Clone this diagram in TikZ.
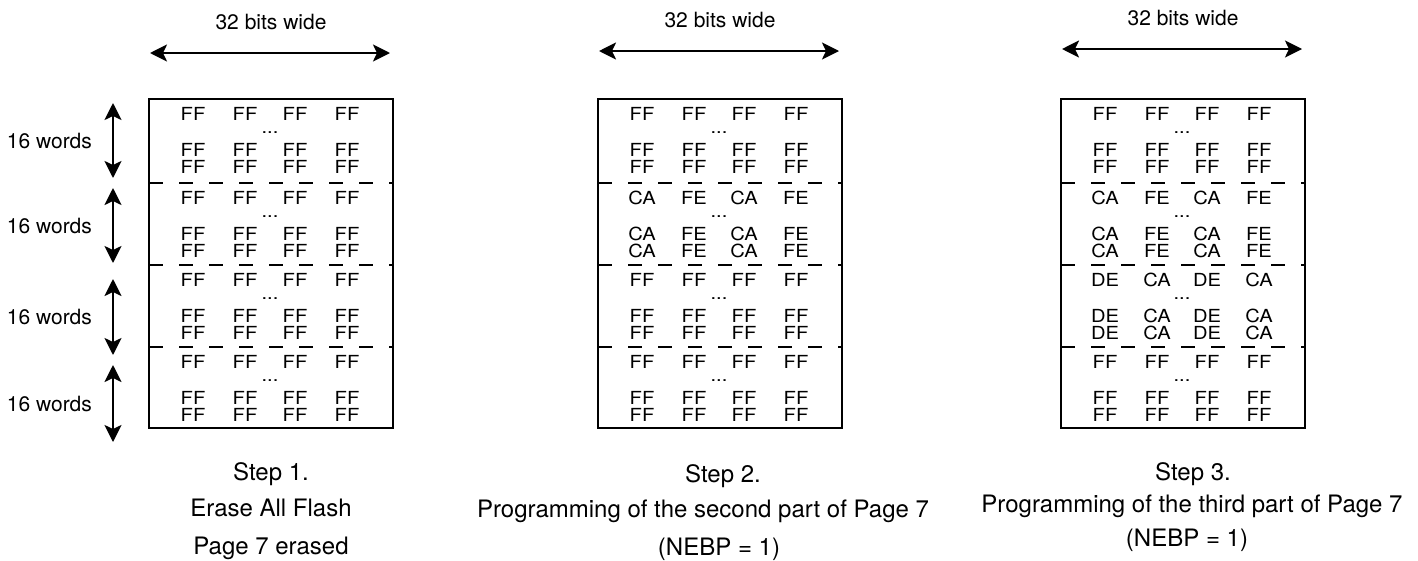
\documentclass[tikz,border=0pt]{standalone}
\usepackage{fontspec}
\setmainfont{TeX Gyre Heros}
\newfontfamily\cellfont[FakeStretch=1.12]{TeX Gyre Heros}
\usetikzlibrary{arrows.meta, positioning}

\tikzset{
  membox/.style={line width=2.8pt},
  sepline/.style={line width=2.8pt, dash pattern=on 14pt off 16pt},
  dimarrow/.style={line width=2.2pt,
    {Stealth[length=17pt,width=17pt,inset=4pt]}-{Stealth[length=17pt,width=17pt,inset=4pt]}},
  cell/.style={inner sep=0pt, font=\cellfont\fontsize{18}{18}\selectfont},
  lbl/.style={inner sep=0pt, font=\fontsize{21}{21}\selectfont},
  capline/.style={inner sep=0pt, anchor=base, font=\fontsize{24}{24}\selectfont},
}

\begin{document}
\begin{tikzpicture}[x=1pt,y=-1pt]
    \useasboundingbox (0,0) rectangle (1418,560);

    % Page 7 outline, section borders and width arrow for each step
    \foreach \bx/\ay [count=\b] in {149/53, 598/51, 1061/49} {
        \draw[membox] (\bx,99) rectangle ++(244,329);
        \foreach \sy in {183,265,347}
            \draw[sepline] (\bx,\sy) -- ++(244,0);
        \coordinate (wl\b) at (\bx+1,\ay);
        \coordinate (wr\b) at (\bx+241,\ay);
        \draw[dimarrow] (wl\b) -- (wr\b);
        \node[lbl, anchor=base] (wide\b) at (\bx+122,\ay-23.5) {32 bits wide};
    }

    % Words in each 16-word section (two values, alternating)
    \foreach \bx/\sa/\sb/\sc/\sd/\se/\sf/\sg/\sh [count=\b] in
        {149/FF/FF/FF/FF/FF/FF/FF/FF,
         598/FF/FF/CA/FE/FF/FF/FF/FF,
         1061/FF/FF/CA/FE/DE/CA/FF/FF} {
        \foreach \ty/\wa/\wb [count=\s] in {99/\sa/\sb, 183/\sc/\sd, 265/\se/\sf, 347/\sg/\sh} {
            \foreach \ry [count=\r] in {15,51,68} {
                \foreach \cx/\w [count=\c] in {44/\wa, 96/\wb, 146/\wa, 198/\wb}
                    \node[cell] (w\b-\s-\r-\c) at (\bx+\cx,\ty+\ry) {\w};
            }
            \node[cell, anchor=base] (dots\b-\s) at (\bx+121,\ty+34) {...};
        }
    }

    % Height arrows of the sections
    \foreach \ya/\yb [count=\k] in {103/178, 188/263, 279/355, 365/442} {
        \coordinate (vt\k) at (113,\ya);
        \coordinate (vb\k) at (113,\yb);
        \draw[dimarrow] (vt\k) -- (vb\k) node[lbl, midway, left=20pt] (words\k) {16 words};
    }

    % Captions
    \node[capline] (step1) at (271,480) {Step 1.};
    \node[capline] (erase1) at (271,516) {Erase All Flash};
    \node[capline] (page1) at (271,554) {Page 7 erased};

    \node[capline] (step2) at (723,482) {Step 2.};
    \node[capline] (prog2) at (703,517) {Programming of the second part of Page 7};
    \node[capline] (nebp2) at (719,555) {(NEBP = 1)};

    \node[capline] (step3) at (1193,480) {Step 3.};
    \node[capline] (prog3) at (1192,512) {Programming of the third part of Page 7};
    \node[capline] (nebp3) at (1187,546) {(NEBP = 1)};
\end{tikzpicture}
\end{document}
